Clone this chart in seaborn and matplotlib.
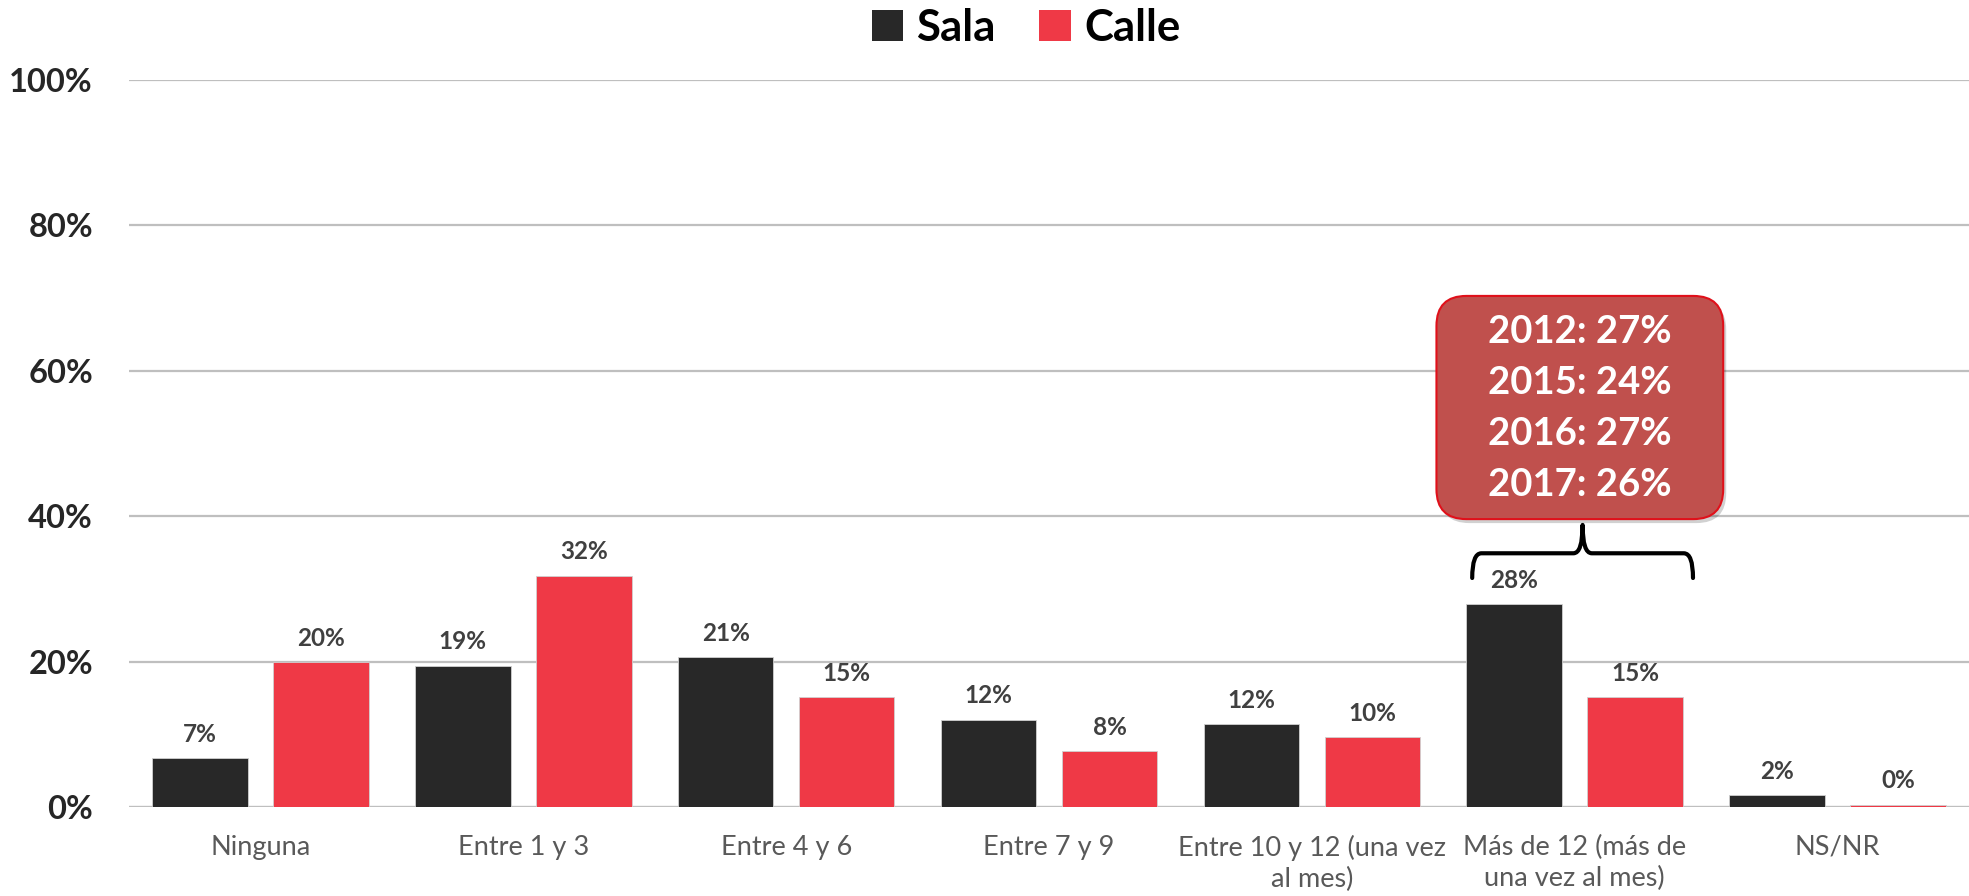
import matplotlib
matplotlib.use('Agg')
import matplotlib.pyplot as plt
import seaborn as sns
import pandas as pd
import numpy as np
from matplotlib.patches import FancyBboxPatch, Patch, PathPatch
from matplotlib.path import Path

# data
categories = ["Ninguna", "Entre 1 y 3", "Entre 4 y 6", "Entre 7 y 9",
              "Entre 10 y 12 (una vez\nal mes)", "Más de 12 (más de\nuna vez al mes)", "NS/NR"]
sala = [6.7, 19.4, 20.6, 12.0, 11.4, 27.9, 1.6]
calle = [19.9, 31.8, 15.1, 7.7, 9.6, 15.1, 0.3]
sala_labels = ["7%", "19%", "21%", "12%", "12%", "28%", "2%"]
calle_labels = ["20%", "32%", "15%", "8%", "10%", "15%", "0%"]
series = ["Sala", "Calle"]
history = ["2012: 27%", "2015: 24%", "2016: 27%", "2017: 26%"]

colors = {"Sala": "#282828", "Calle": "#EF3946"}

df = pd.DataFrame({
    "cat": categories * 2,
    "serie": ["Sala"] * len(categories) + ["Calle"] * len(categories),
    "val": sala + calle,
})

sns.set_style("white")
plt.rcParams['font.family'] = ['Lato', 'DejaVu Sans']

fig = plt.figure(figsize=(19.69, 8.96), dpi=100)
ax = fig.add_axes([129 / 1969, 1 - 807 / 896, 1 - 129 / 1969, 727 / 896])

sns.barplot(data=df, x="cat", y="val", hue="serie", order=categories,
            hue_order=series, palette=colors, width=0.92, gap=0.21,
            ax=ax, legend=False, saturation=1, edgecolor="#d0d0d0", linewidth=0.6)

ax.set_ylim(0, 100)
ax.set_xlim(-0.5, len(categories) - 0.5)
ax.set_yticks(range(0, 101, 20))
ax.set_yticklabels([f"{v}%" for v in range(0, 101, 20)], fontsize=23.5,
                   fontweight='bold', color="#262626")
ax.tick_params(axis='y', length=0, pad=26)
ax.tick_params(axis='x', length=0, pad=20, labelsize=19.5, labelcolor="#595959")
for lab in ax.get_xticklabels():
    lab.set_linespacing(1.3)
ax.set_xlabel("")
ax.set_ylabel("")
for s in ax.spines.values():
    s.set_visible(False)
ax.yaxis.grid(True, color="#bfbfbf", linewidth=1.6)
ax.set_axisbelow(True)
ax.axhline(0, color="#d9d9d9", linewidth=1.6, zorder=0.5)

for cont, labs in zip(ax.containers, [sala_labels, calle_labels]):
    ax.bar_label(cont, labels=labs, padding=9, fontsize=17.5, fontweight='bold',
                 color="#404040")

# legend
handles = [Patch(facecolor=colors[s], edgecolor='none', label=s) for s in series]
leg = fig.legend(handles=handles, loc='center', bbox_to_anchor=(1026 / 1969, 1 - 28 / 896),
                 ncol=2, frameon=False, prop={'weight': 'bold', 'size': 31.5},
                 handlelength=0.72, handleheight=0.72, handletextpad=0.3, columnspacing=1.0)
for t in leg.get_texts():
    t.set_color("black")

# callout box with history values
idx = categories.index("Más de 12 (más de\nuna vez al mes)")
x0, x1 = idx - 0.526, idx + 0.565
y0, y1 = 39.6, 70.3
px_x = 262.9
px_y = 7.27
shadow = FancyBboxPatch((x0 + 3 / px_x, y0 - 4 / px_y), x1 - x0, y1 - y0,
                        boxstyle="round,pad=0,rounding_size=0.114",
                        mutation_aspect=px_x / px_y, facecolor="#000000",
                        edgecolor='none', alpha=0.18, zorder=4, clip_on=False)
ax.add_patch(shadow)
box = FancyBboxPatch((x0, y0), x1 - x0, y1 - y0,
                     boxstyle="round,pad=0,rounding_size=0.114",
                     mutation_aspect=px_x / px_y, facecolor="#C0504D",
                     edgecolor="#E0101A", linewidth=1.5, zorder=5, clip_on=False)
ax.add_patch(box)
ys = np.linspace(y1 - (332 - 296) / px_y, y1 - (485 - 296) / px_y, len(history))
for t, yy in zip(history, ys):
    ax.text((x0 + x1) / 2, yy, t, ha='center', va='center', color='white',
            fontsize=27.5, fontweight='bold', zorder=6)

# curly bracket over the group
bl, br, bc = idx - 0.39, idx + 0.45, idx + 0.03
yb, ymid, ytip = 31.5, 34.9, 38.8
rx = 0.035
verts = [(bl, yb), (bl, ymid), (bl + rx, ymid),
         (bc - rx, ymid), (bc, ymid), (bc, ytip),
         (bc, ymid), (bc + rx, ymid),
         (br - rx, ymid), (br, ymid), (br, yb)]
codes = [Path.MOVETO, Path.CURVE3, Path.CURVE3,
         Path.LINETO, Path.CURVE3, Path.CURVE3,
         Path.CURVE3, Path.CURVE3,
         Path.LINETO, Path.CURVE3, Path.CURVE3]
ax.add_patch(PathPatch(Path(verts, codes), facecolor='none', edgecolor='black',
                       linewidth=3, zorder=4, capstyle='round', joinstyle='round'))

fig.savefig("out.png", dpi=100, facecolor='white')
